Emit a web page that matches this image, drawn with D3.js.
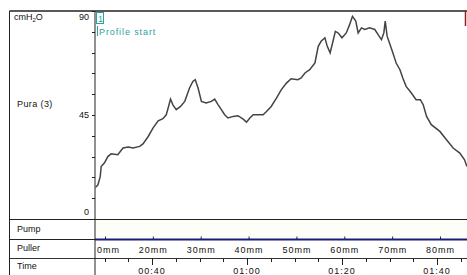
<!DOCTYPE html>
<html>
<head>
<meta charset="utf-8">
<script src="https://cdn.jsdelivr.net/npm/d3@7"></script>
<style>
  body { margin: 0; background: #fff; }
  svg text { font-family: "Liberation Sans", Arial, sans-serif; font-size: 9px; fill: #111; }
</style>
</head>
<body>
<div id="chart"></div>
<script>
'use strict';

// pressure trace, time in seconds, pressure in cmH2O
const times = [27.9, 28.6, 29.1, 29.3, 30.0, 30.7, 31.4, 32.1, 32.8, 33.9, 35.0, 36.0, 37.4, 38.1, 39.2,
  40.2, 41.3, 42.3, 43.0, 43.4, 43.9, 44.4, 45.1, 46.0, 46.9, 47.9, 48.6, 49.1, 49.7, 50.4, 51.4, 52.5,
  53.2, 53.9, 54.6, 55.3, 56.0, 57.1, 58.1, 59.2, 59.9, 60.6, 61.3, 62.3, 63.4, 64.1, 65.1, 66.2, 67.2,
  68.3, 69.3, 70.7, 71.4, 72.2, 73.2, 74.3, 75.0, 75.6, 76.4, 76.9, 77.5, 78.1, 78.6, 79.2, 80.0, 80.9,
  81.6, 82.2, 82.9, 83.4, 84.1, 84.8, 85.8, 86.9, 87.6, 88.3, 88.8, 89.1, 89.5, 90.0, 90.7, 91.4, 92.2,
  92.8, 93.5, 94.6, 95.6, 96.5, 97.1, 97.8, 98.8, 100.6, 102.0, 103.4, 104.8, 105.8, 106.3];
const pressure = [13.3, 14.7, 18.3, 22.7, 24.3, 27.0, 28.2, 28.0, 27.8, 30.7, 31.1, 30.7, 31.4, 32.5, 35.7,
  39.3, 42.5, 43.4, 45.1, 48.0, 51.9, 49.4, 47.3, 48.7, 50.9, 56.7, 59.5, 60.3, 56.7, 50.9, 50.2, 50.9,
  51.9, 49.5, 47.3, 45.1, 43.7, 44.4, 44.7, 43.2, 41.9, 43.7, 45.1, 45.1, 45.1, 46.5, 48.7, 52.3, 55.9,
  58.8, 60.7, 60.3, 61.0, 63.2, 64.6, 67.5, 74.7, 76.9, 78.4, 74.7, 71.9, 76.9, 81.2, 80.5, 78.4, 80.5,
  84.1, 87.7, 85.6, 80.5, 82.7, 82.0, 82.7, 82.0, 79.8, 77.6, 80.5, 85.6, 79.1, 76.2, 71.9, 67.5, 64.6,
  61.0, 57.4, 54.5, 51.6, 51.6, 49.4, 44.4, 40.8, 37.9, 34.3, 30.7, 28.5, 25.6, 22.7];

const yTickLabels = [0, 45, 90];
const pullerTicks = [10, 20, 30, 40, 50, 60, 70, 80];
const timeMajor = [40, 60, 80, 100];
const timeLabels = ['00:40', '01:00', '01:20', '01:40'];
const rowLabels = ['Pump', 'Puller', 'Time'];

const W = 467, H = 275;
const leftX = 9.5, axisX = 95, rightX = 467;
const topY = 11, plotBottom = 219, pumpBottom = 239, pullerBottom = 258;

const svg = d3.select('#chart').append('svg')
  .attr('width', W).attr('height', H);

const defs = svg.append('defs');
defs.append('clipPath').attr('id', 'plotclip')
  .append('rect').attr('x', axisX + 0.5).attr('y', 0).attr('width', rightX - axisX).attr('height', H);
defs.append('clipPath').attr('id', 'labelclip')
  .append('rect').attr('x', axisX + 1.5).attr('y', 0).attr('width', rightX - axisX).attr('height', H);

const x = d3.scaleLinear().domain([40, 100]).range([152, 437]);
const xmm = d3.scaleLinear().domain([10, 80]).range([105.5, 440.5]);
const y = d3.scaleLinear().domain([0, 90]).range([plotBottom, topY]);

// faint background for the pump row
svg.append('rect')
  .attr('x', axisX).attr('y', plotBottom).attr('width', rightX - axisX).attr('height', pumpBottom - plotBottom)
  .attr('fill', '#fefef8');

// frame lines
const hline = (yy, x1, x2, col, w) => svg.append('line')
  .attr('x1', x1).attr('x2', x2).attr('y1', yy).attr('y2', yy)
  .attr('stroke', col).attr('stroke-width', w);

hline(topY, leftX, rightX, '#222', 1.6);
hline(plotBottom + 0.5, leftX, rightX, '#222', 1);
hline(pumpBottom + 0.5, leftX, axisX, '#222', 1);
hline(pumpBottom + 0.5, axisX, rightX, '#1c1c78', 2);
hline(pullerBottom + 0.5, leftX, rightX, '#333', 1);

svg.append('line').attr('x1', leftX).attr('x2', leftX).attr('y1', topY).attr('y2', H)
  .attr('stroke', '#222').attr('stroke-width', 1);
svg.append('line').attr('x1', axisX).attr('x2', axisX).attr('y1', topY).attr('y2', H)
  .attr('stroke', '#222').attr('stroke-width', 1);

// y axis ticks
svg.append('g').selectAll('line')
  .data(d3.range(0, 91, 9))
  .join('line')
  .attr('x1', axisX - 3).attr('x2', axisX)
  .attr('y1', d => Math.round(y(d)) + 0.5).attr('y2', d => Math.round(y(d)) + 0.5)
  .attr('stroke', '#222');

svg.append('g').selectAll('text')
  .data(yTickLabels)
  .join('text')
  .attr('x', 89)
  .attr('y', d => d === 90 ? y(d) + 9 : d === 0 ? y(d) - 4 : y(d) + 3)
  .attr('text-anchor', 'end')
  .text(d => d);

// left column labels
const unit = svg.append('text').attr('x', 14).attr('y', 20);
unit.append('tspan').text('cmH');
unit.append('tspan').attr('dy', 2).attr('font-size', '6px').text('2');
unit.append('tspan').attr('dy', -2).text('O');

svg.append('text').attr('x', 17).attr('y', 107).attr('letter-spacing', '0.4px').text('Pura (3)');

svg.append('g').selectAll('text')
  .data(rowLabels)
  .join('text')
  .attr('x', 17)
  .attr('y', (d, i) => [232, 251, 269][i])
  .text(d => d);

// pressure trace
const line = d3.line()
  .x(i => x(times[i]))
  .y(i => y(pressure[i]));

svg.append('path')
  .attr('clip-path', 'url(#plotclip)')
  .attr('d', line(d3.range(times.length)))
  .attr('fill', 'none')
  .attr('stroke', '#444')
  .attr('stroke-width', 1.5)
  .attr('stroke-linejoin', 'miter');

// puller axis
const puller = svg.append('g').attr('clip-path', 'url(#labelclip)');
puller.selectAll('line')
  .data(pullerTicks)
  .join('line')
  .attr('x1', d => xmm(d)).attr('x2', d => xmm(d))
  .attr('y1', pumpBottom - 2.5).attr('y2', pumpBottom)
  .attr('stroke', '#1c1c78');
puller.selectAll('text')
  .data(pullerTicks)
  .join('text')
  .attr('x', d => xmm(d))
  .attr('y', 253)
  .attr('text-anchor', 'middle')
  .attr('letter-spacing', '1px')
  .text(d => d + 'mm');

// time axis
const timeAxis = svg.append('g').attr('clip-path', 'url(#plotclip)');
timeAxis.selectAll('line')
  .data(d3.range(25, 110, 5))
  .join('line')
  .attr('x1', d => Math.round(x(d)) + 0.5).attr('x2', d => Math.round(x(d)) + 0.5)
  .attr('y1', pullerBottom)
  .attr('y2', d => d % 20 === 0 ? pullerBottom + 7 : pullerBottom + 4)
  .attr('stroke', '#222');
timeAxis.selectAll('text')
  .data(timeMajor)
  .join('text')
  .attr('x', d => x(d))
  .attr('y', 274)
  .attr('text-anchor', 'middle')
  .attr('letter-spacing', '1px')
  .text((d, i) => timeLabels[i]);

// profile start marker
const teal = '#2e9f9f';
svg.append('rect')
  .attr('x', 96.5).attr('y', 12.5).attr('width', 7).attr('height', 11)
  .attr('fill', 'none').attr('stroke', teal);
svg.append('text').attr('x', 98).attr('y', 21.5).style('fill', teal).text('1');
svg.append('line').attr('x1', 97.5).attr('x2', 97.5).attr('y1', 26).attr('y2', 36)
  .attr('stroke', teal);
svg.append('text').attr('x', 99).attr('y', 35).attr('letter-spacing', '0.9px')
  .style('fill', teal).text('Profile start');

// red marker at the right edge
svg.append('line').attr('x1', 465.5).attr('x2', 465.5).attr('y1', topY).attr('y2', 26)
  .attr('stroke', '#8a2020').attr('stroke-width', 1.5);
</script>
</body>
</html>
